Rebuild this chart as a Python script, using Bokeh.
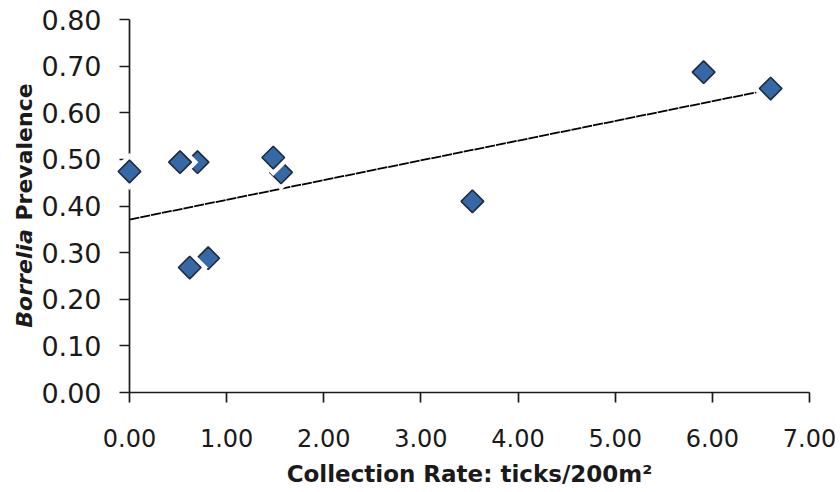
import math
from bokeh.plotting import figure
from bokeh.models import Range1d, FixedTicker, NumeralTickFormatter
from bokeh.core.properties import value
from bokeh.embed import file_html
from bokeh.resources import INLINE

# data (drawing order: partly hidden points first)
rate = [0.70, 0.52, 0.00, 1.56, 1.48, 0.81, 0.62, 3.53, 5.91, 6.60]
prevalence = [0.494, 0.494, 0.474, 0.472, 0.504, 0.288, 0.268, 0.410, 0.687, 0.652]

trend_x = [0.0, 6.60]
trend_y = [0.371, 0.650]

x_ticks = [0, 1, 2, 3, 4, 5, 6, 7]
y_ticks = [0.0, 0.1, 0.2, 0.3, 0.4, 0.5, 0.6, 0.7, 0.8]

y_title_parts = ["Borrelia", "Prevalence"]

FONT = "DejaVu Sans"
INK = "#1a1a1a"

p = figure(width=840, height=492, output_backend="svg", toolbar_location=None,
           x_range=Range1d(0, 7), y_range=Range1d(0, 0.8),
           min_border_left=129, min_border_right=31, min_border_top=19,
           min_border_bottom=100)
p.outline_line_color = None
p.grid.visible = False
p.background_fill_color = "white"

for ax in (p.xaxis[0], p.yaxis[0]):
    ax.axis_line_color = "#1a1a1a"
    ax.axis_line_width = 1.7
    ax.major_tick_line_color = "#1a1a1a"
    ax.major_tick_line_width = 1.7
    ax.major_tick_out = 10
    ax.major_tick_in = 0
    ax.minor_tick_line_color = None
    ax.major_label_text_font = FONT
    ax.major_label_text_color = INK
    ax.formatter = NumeralTickFormatter(format="0.00")

p.xaxis.ticker = FixedTicker(ticks=x_ticks)
p.yaxis.ticker = FixedTicker(ticks=y_ticks)
p.xaxis.major_label_text_font_size = "24px"
p.yaxis.major_label_text_font_size = "27px"
p.xaxis.major_label_standoff = 26
p.yaxis.major_label_standoff = 18

p.xaxis.axis_label = "Collection Rate: ticks/200m\u00b2"
p.xaxis.axis_label_text_font = FONT
p.xaxis.axis_label_text_font_size = "23px"
p.xaxis.axis_label_text_font_style = "bold"
p.xaxis.axis_label_text_color = INK
p.xaxis.axis_label_standoff = 11

# y axis title with italic genus name (text glyphs drawn outside the frame)
t1 = p.text(x=[-1.08], y=[0.139], text=[y_title_parts[0]], angle=math.pi / 2,
            text_align="left", text_baseline="middle", text_font=value(FONT),
            text_font_size="22px", text_font_style="bold italic",
            text_color=INK)
t2 = p.text(x=[-1.08], y=[0.663], text=[y_title_parts[1]], angle=math.pi / 2,
            text_align="right", text_baseline="middle", text_font=value(FONT),
            text_font_size="22px", text_font_style="bold", text_color=INK)
t1.level = "overlay"
t2.level = "overlay"

# trend line
p.line(trend_x, trend_y, line_color="#000000", line_width=1.8, line_dash="10 1")

# markers, each with a white halo so later ones cover earlier ones
for xv, yv in zip(rate, prevalence):
    h = p.scatter([xv], [yv], marker="square", angle=math.pi / 4, size=26,
                  fill_color="white", line_color=None)
    m = p.scatter([xv], [yv], marker="square", angle=math.pi / 4, size=16,
                  fill_color="#3768A6", line_color="#1E2B3C", line_width=1.6)
    h.level = "overlay"
    m.level = "overlay"

open("out.html", "w").write(file_html(p, INLINE))
